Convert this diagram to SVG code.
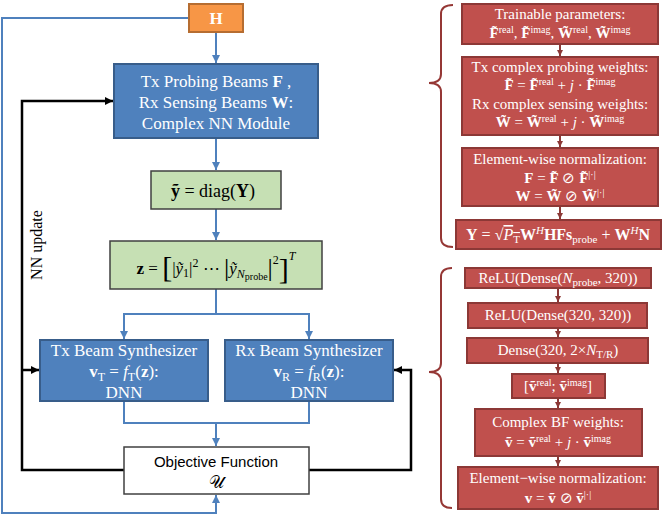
<svg xmlns="http://www.w3.org/2000/svg" width="664" height="515" viewBox="0 0 664 515">
<defs>
<style>
.blue{fill:#4F81BD;stroke:#385D8A;stroke-width:2}
.green{fill:#C6E0B4;stroke:#404040;stroke-width:1.5}
.red{fill:#C0504D;stroke:#8C3836;stroke-width:2}
.wt{fill:#fff;font-family:"Liberation Serif","Times New Roman",serif;text-anchor:middle}
.bt{fill:#000;font-family:"Liberation Serif","Times New Roman",serif;text-anchor:middle}
.bl{fill:none;stroke:#4F81BD;stroke-width:2}
.bk{fill:none;stroke:#000;stroke-width:2.5}
.rd{fill:none;stroke:#8C3836;stroke-width:2}
.br{fill:none;stroke:#953735;stroke-width:2}
.b{font-weight:bold}
.i{font-style:italic}
</style>
<marker id="ab" markerUnits="userSpaceOnUse" markerWidth="9" markerHeight="9" refX="8" refY="4" orient="auto"><path d="M0,0 L8,4 L0,8 z" fill="#4F81BD"/></marker>
<marker id="ak" markerUnits="userSpaceOnUse" markerWidth="9" markerHeight="9" refX="8" refY="4" orient="auto"><path d="M0,0 L8,4 L0,8 z" fill="#000"/></marker>
<marker id="ar" markerUnits="userSpaceOnUse" markerWidth="7" markerHeight="7" refX="6" refY="3" orient="auto"><path d="M0,0 L6,3 L0,6 z" fill="#8C3836"/></marker>
</defs>

<g id="connectors">
<path class="bl" d="M216,32 V63" marker-end="url(#ab)"/>
<path class="bl" d="M189,18 H2 V513 H216 V495" marker-end="url(#ab)"/>
<path class="bl" d="M216,138 V170" marker-end="url(#ab)"/>
<path class="bl" d="M216,209 V240" marker-end="url(#ab)"/>
<path class="bl" d="M216,289 V314 H124 V339" marker-end="url(#ab)"/>
<path class="bl" d="M216,314 H309 V339" marker-end="url(#ab)"/>
<path class="bl" d="M124,401 V423 H309 V401"/>
<path class="bl" d="M216,423 V446" marker-end="url(#ab)"/>
<path class="bk" d="M124,470 H22 V101 H113" marker-end="url(#ak)"/>
<path class="bk" d="M22,370 H39" marker-end="url(#ak)"/>
<path class="bk" d="M309,470 H411 V370 H394" marker-end="url(#ak)"/>
<path class="rd" d="M560,44 V56" marker-end="url(#ar)"/>
<path class="rd" d="M560,135 V147" marker-end="url(#ar)"/>
<path class="rd" d="M560,206 V219" marker-end="url(#ar)"/>
<path class="rd" d="M558,288 V302" marker-end="url(#ar)"/>
<path class="rd" d="M558,328 V337" marker-end="url(#ar)"/>
<path class="rd" d="M558,363 V373" marker-end="url(#ar)"/>
<path class="rd" d="M558,398 V408" marker-end="url(#ar)"/>
<path class="rd" d="M558,456 V466" marker-end="url(#ar)"/>
<path class="br" d="M453,5 Q441,5 441,14 V74 Q441,83 429,83 Q441,83 441,92 V238 Q441,247 453,247"/>
<path class="br" d="M452,268 Q441,268 441,277 V363 Q441,372 429,372 Q441,372 441,381 V499 Q441,508 452,508"/>
</g>

<text class="bt" transform="translate(42,245) rotate(-90)" font-size="16">NN update</text>

<g id="H">
<rect x="189" y="4" width="54" height="28" fill="#F79646" stroke="#B66D31" stroke-width="2"/>
<text class="wt b" x="216" y="24" font-size="17">H</text>
</g>

<g id="nn_module">
<rect class="blue" x="114" y="64" width="204" height="74"/>
<text class="wt" x="216" y="87" font-size="17">Tx Probing Beams <tspan class="b">F</tspan> ,</text>
<text class="wt" x="216" y="108" font-size="17">Rx Sensing Beams <tspan class="b">W</tspan>:</text>
<text class="wt" x="216" y="129" font-size="17">Complex NN Module</text>
</g>

<g id="y_diag">
<rect class="green" x="151" y="171" width="130" height="38"/>
<text class="bt" x="213" y="197" font-size="18"><tspan class="b">ỹ</tspan> = diag(<tspan class="b">Y</tspan>)</text>
</g>

<g id="z_vec">
<rect class="green" x="110" y="241" width="212" height="48"/>
<text class="bt" x="216" y="274" font-size="17"><tspan class="b">z</tspan> = <tspan font-size="30" dy="3">[</tspan><tspan dy="-3">|</tspan><tspan class="i">ỹ</tspan><tspan font-size="12" dy="3">1</tspan><tspan dy="-3">|</tspan><tspan font-size="12" dy="-7">2</tspan><tspan dy="7"> ⋯ </tspan><tspan font-size="26" dy="2">|</tspan><tspan class="i" dy="-2">ỹ</tspan><tspan class="i" font-size="12" dy="4">N</tspan><tspan font-size="10" dy="2">probe</tspan><tspan font-size="26" dy="-4">|</tspan><tspan font-size="12" dy="-12">2</tspan><tspan font-size="30" dy="15">]</tspan><tspan class="i" font-size="12" dy="-19">T</tspan></text>
</g>

<g id="tx_synth">
<rect class="blue" x="40" y="340" width="168" height="61"/>
<text class="wt" x="124" y="356" font-size="17">Tx Beam Synthesizer</text>
<text class="wt" x="124" y="377" font-size="17"><tspan class="b">v</tspan><tspan font-size="12" dy="4">T</tspan><tspan dy="-4"> = </tspan><tspan class="i">f</tspan><tspan font-size="12" dy="4">T</tspan><tspan dy="-4">(</tspan><tspan class="b">z</tspan>):</text>
<text class="wt" x="124" y="398" font-size="17">DNN</text>
</g>

<g id="rx_synth">
<rect class="blue" x="225" y="340" width="168" height="61"/>
<text class="wt" x="309" y="356" font-size="17">Rx Beam Synthesizer</text>
<text class="wt" x="309" y="377" font-size="17"><tspan class="b">v</tspan><tspan font-size="12" dy="4">R</tspan><tspan dy="-4"> = </tspan><tspan class="i">f</tspan><tspan font-size="12" dy="4">R</tspan><tspan dy="-4">(</tspan><tspan class="b">z</tspan>):</text>
<text class="wt" x="309" y="398" font-size="17">DNN</text>
</g>

<g id="objective">
<rect x="124" y="447" width="185" height="47" fill="#fff" stroke="#404040" stroke-width="1.5"/>
<text x="216" y="467" font-size="15" font-family="'Liberation Sans',Arial,sans-serif" text-anchor="middle">Objective Function</text>
<text class="bt" x="216" y="488" font-size="17">𝒰</text>
</g>

<g id="trainable">
<rect class="red" x="462" y="4" width="196" height="40"/>
<text class="wt" x="560" y="19" font-size="15">Trainable parameters:</text>
<text class="wt" x="560" y="38" font-size="15"><tspan class="b">F̃</tspan><tspan font-size="10" dy="-5">real</tspan><tspan dy="5">, </tspan><tspan class="b">F̃</tspan><tspan font-size="10" dy="-5">imag</tspan><tspan dy="5">, </tspan><tspan class="b">W̃</tspan><tspan font-size="10" dy="-5">real</tspan><tspan dy="5">, </tspan><tspan class="b">W̃</tspan><tspan font-size="10" dy="-5">imag</tspan></text>
</g>

<g id="complex_weights">
<rect class="red" x="462" y="57" width="196" height="78"/>
<text class="wt" x="560" y="72" font-size="15">Tx complex probing weights:</text>
<text class="wt" x="560" y="90" font-size="15"><tspan class="b">F̃</tspan> = <tspan class="b">F̃</tspan><tspan font-size="10" dy="-5">real</tspan><tspan dy="5"> + </tspan><tspan class="i">j</tspan> · <tspan class="b">F̃</tspan><tspan font-size="10" dy="-5">imag</tspan></text>
<text class="wt" x="560" y="109" font-size="15">Rx complex sensing weights:</text>
<text class="wt" x="560" y="127" font-size="15"><tspan class="b">W̃</tspan> = <tspan class="b">W̃</tspan><tspan font-size="10" dy="-5">real</tspan><tspan dy="5"> + </tspan><tspan class="i">j</tspan> · <tspan class="b">W̃</tspan><tspan font-size="10" dy="-5">imag</tspan></text>
</g>

<g id="normalization1">
<rect class="red" x="462" y="148" width="196" height="58"/>
<text class="wt" x="560" y="164" font-size="15">Element-wise normalization:</text>
<text class="wt" x="560" y="183" font-size="15"><tspan class="b">F</tspan> = <tspan class="b">F̃</tspan> ⊘ <tspan class="b">F̃</tspan><tspan font-size="10" dy="-5">|·|</tspan></text>
<text class="wt" x="560" y="201" font-size="15"><tspan class="b">W</tspan> = <tspan class="b">W̃</tspan> ⊘ <tspan class="b">W̃</tspan><tspan font-size="10" dy="-5">|·|</tspan></text>
</g>

<g id="received">
<rect class="red" x="456" y="220" width="205" height="29"/>
<text class="wt" x="558" y="240" font-size="16"><tspan class="b">Y</tspan> = √<tspan class="i" text-decoration="overline">P</tspan><tspan font-size="11" dy="3" text-decoration="overline">T</tspan><tspan class="b" dy="-3">W</tspan><tspan class="i" font-size="11" dy="-6">H</tspan><tspan class="b" dy="6">HFs</tspan><tspan font-size="11" dy="3">probe</tspan><tspan dy="-3"> + </tspan><tspan class="b">W</tspan><tspan class="i" font-size="11" dy="-6">H</tspan><tspan class="b" dy="6">N</tspan></text>
</g>

<g id="dense1">
<rect class="red" x="465" y="268" width="186" height="20"/>
<text class="wt" x="558" y="283" font-size="15">ReLU(Dense(<tspan class="i">N</tspan><tspan font-size="11" dy="3">probe</tspan><tspan dy="-3">, 320))</tspan></text>
</g>

<g id="dense2">
<rect class="red" x="468" y="303" width="179" height="25"/>
<text class="wt" x="558" y="320" font-size="15">ReLU(Dense(320, 320))</text>
</g>

<g id="dense3">
<rect class="red" x="467" y="338" width="181" height="25"/>
<text class="wt" x="558" y="355" font-size="15">Dense(320, 2×<tspan class="i">N</tspan><tspan font-size="11" dy="3">T/R</tspan><tspan dy="-3">)</tspan></text>
</g>

<g id="vreal_imag">
<rect class="red" x="512" y="374" width="93" height="24"/>
<text class="wt" x="558" y="391" font-size="15">[<tspan class="b">ṽ</tspan><tspan font-size="10" dy="-5">real</tspan><tspan dy="5">; </tspan><tspan class="b">ṽ</tspan><tspan font-size="10" dy="-5">imag</tspan><tspan dy="5">]</tspan></text>
</g>

<g id="complex_bf">
<rect class="red" x="475" y="409" width="167" height="47"/>
<text class="wt" x="558" y="427" font-size="15">Complex BF weights:</text>
<text class="wt" x="558" y="447" font-size="15"><tspan class="b">ṽ</tspan> = <tspan class="b">ṽ</tspan><tspan font-size="10" dy="-5">real</tspan><tspan dy="5"> + </tspan><tspan class="i">j</tspan> · <tspan class="b">ṽ</tspan><tspan font-size="10" dy="-5">imag</tspan></text>
</g>

<g id="normalization2">
<rect class="red" x="458" y="467" width="200" height="42"/>
<text class="wt" x="558" y="483" font-size="15">Element−wise normalization:</text>
<text class="wt" x="558" y="503" font-size="15"><tspan class="b">v</tspan> = <tspan class="b">ṽ</tspan> ⊘ <tspan class="b">ṽ</tspan><tspan font-size="10" dy="-5">|·|</tspan></text>
</g>
</svg>
